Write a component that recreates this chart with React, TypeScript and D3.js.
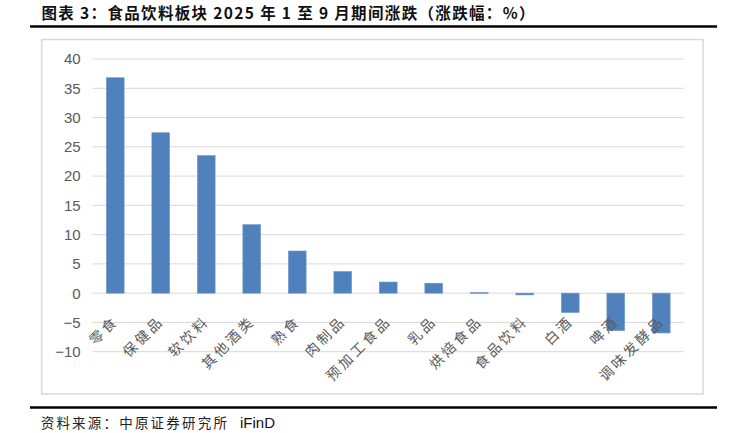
import React from "react";
import * as d3 from "d3";

const categories = ["零食", "保健品", "软饮料", "其他酒类", "熟食", "肉制品", "预加工食品", "乳品", "烘焙食品", "食品饮料", "白酒", "啤酒", "调味发酵品"];
const values = [36.8, 27.4, 23.5, 11.7, 7.2, 3.7, 1.9, 1.7, 0.1, -0.3, -3.3, -6.4, -6.8];
const yTicks = [-10, -5, 0, 5, 10, 15, 20, 25, 30, 35, 40];
const titleText = "图表 3：食品饮料板块 2025 年 1 至 9 月期间涨跌（涨跌幅：%）";
const sourceText = "资料来源：中原证券研究所";
const sourceTool = "iFinD";

const W = 732;
const H = 433;

export default function App() {
  const x = d3
    .scaleBand<string>()
    .domain(categories)
    .range([92.5, 684])
    .paddingInner(0.61)
    .paddingOuter(0.305);
  const y = d3.scaleLinear().domain([-10, 40]).range([351.7, 59]);
  const fmt = d3.format("d");
  const cjk = "'Noto Sans CJK SC', sans-serif";
  const latin = "'Liberation Sans', Arial, sans-serif";

  return (
    <div style={{ position: "absolute", left: 0, top: 0 }}>
      <svg width={W} height={H} style={{ display: "block", background: "#fff" }}>
        <text
          x={41.5}
          y={18.5}
          fontFamily={cjk}
          fontWeight={700}
          fontSize={15.5}
          fill="#111"
          textLength={493}
          lengthAdjust="spacing"
        >
          {titleText}
        </text>
        <line x1={30} x2={717} y1={26.5} y2={26.5} stroke="#000" strokeWidth={2.5} />

        <rect x={41.7} y={39.5} width={661.3} height={354.5} fill="none" stroke="#d9d9d9" strokeWidth={1.5} />

        {yTicks.map((t) => (
          <g key={t}>
            <line x1={92.5} x2={684} y1={y(t)} y2={y(t)} stroke="#d9d9d9" strokeWidth={1} />
            <text
              x={80.7}
              y={y(t)}
              dy="0.36em"
              textAnchor="end"
              fontFamily={latin}
              fontSize={15}
              fill="#595959"
            >
              {fmt(t)}
            </text>
          </g>
        ))}

        {categories.map((c, i) => {
          const v = values[i];
          const y0 = y(Math.max(0, v));
          const y1 = y(Math.min(0, v));
          return (
            <rect
              key={c}
              x={x(c)}
              y={y0}
              width={x.bandwidth()}
              height={Math.max(0.8, y1 - y0)}
              fill="#4f81bd"
              stroke="#6b96cc"
              strokeWidth={0.6}
            />
          );
        })}

        {categories.map((c) => {
          const cx = (x(c) as number) + x.bandwidth() / 2;
          return (
            <text
              key={"l" + c}
              transform={`translate(${cx + 4},${322}) rotate(-45)`}
              textAnchor="end"
              fontFamily={cjk}
              fontSize={14}
              letterSpacing={3}
              fill="#595959"
            >
              {c}
            </text>
          );
        })}

        <line x1={30} x2={717} y1={407.5} y2={407.5} stroke="#000" strokeWidth={2.5} />
        <text x={40.7} y={427.5} fontFamily={cjk} fontSize={13.5} letterSpacing={2.2} fill="#222">
          {sourceText}
        </text>
        <text x={240} y={427.5} fontFamily={latin} fontSize={15} fill="#111">
          {sourceTool}
        </text>
      </svg>
    </div>
  );
}
